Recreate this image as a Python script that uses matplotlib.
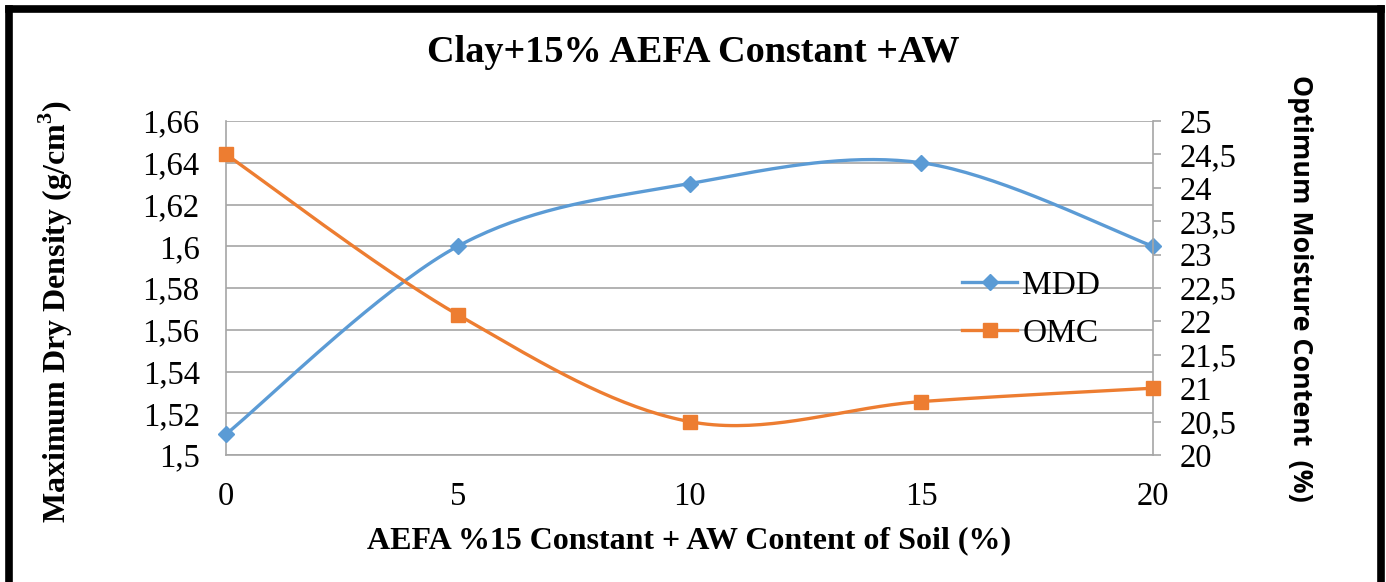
import numpy as np
import matplotlib.pyplot as plt
from matplotlib.ticker import FuncFormatter, MultipleLocator
from matplotlib.lines import Line2D

# AEFA/AW content (%) and compaction results
content = [0, 5, 10, 15, 20]
mdd = [1.51, 1.60, 1.63, 1.64, 1.60]
omc = [24.5, 22.1, 20.5, 20.8, 21.0]

blue = '#5B9BD5'
orange = '#ED7D31'
serif = 'Liberation Serif'


def smooth(x, y, n=40):
	# cubic bezier through the points, control points from neighbours (like office "smoothed line")
	x = np.asarray(x, float)
	y = np.asarray(y, float)
	px = np.concatenate(([x[0]], x, [x[-1]]))
	py = np.concatenate(([y[0]], y, [y[-1]]))
	xs, ys = [], []
	t = np.linspace(0, 1, n)
	for i in range(1, len(px) - 2):
		p0 = np.array([px[i], py[i]])
		p3 = np.array([px[i + 1], py[i + 1]])
		c1 = p0 + (np.array([px[i + 1], py[i + 1]]) - np.array([px[i - 1], py[i - 1]])) / 6
		c2 = p3 - (np.array([px[i + 2], py[i + 2]]) - np.array([px[i], py[i]])) / 6
		b = ((1 - t) ** 3)[:, None] * p0 + (3 * (1 - t) ** 2 * t)[:, None] * c1 \
			+ (3 * (1 - t) * t ** 2)[:, None] * c2 + (t ** 3)[:, None] * p3
		xs.extend(b[:, 0])
		ys.extend(b[:, 1])
	return xs, ys


def comma(v, pos):
	return '{:g}'.format(round(v, 3)).replace('.', ',')


fig = plt.figure(figsize=(13.86, 5.82), dpi=100)
ax = fig.add_axes([0.1631, 0.2182, 0.6688, 0.5739])
ax2 = ax.twinx()

sx, sy = smooth(content, mdd)
ax.plot(sx, sy, color=blue, lw=2.4, zorder=3, clip_on=False)
ax.plot(content, mdd, ls='none', marker='D', ms=8, color=blue, zorder=4, clip_on=False)

sx, sy = smooth(content, omc)
ax2.plot(sx, sy, color=orange, lw=2.4, zorder=3, clip_on=False)
ax2.plot(content, omc, ls='none', marker='s', ms=10, color=orange, zorder=4, clip_on=False)

ax.set_xlim(0, 20)
ax.set_ylim(1.5, 1.66)
ax2.set_ylim(20, 25)
ax.xaxis.set_major_locator(MultipleLocator(5))
ax.yaxis.set_major_locator(MultipleLocator(0.02))
ax2.yaxis.set_major_locator(MultipleLocator(0.5))
ax.yaxis.set_major_formatter(FuncFormatter(comma))
ax2.yaxis.set_major_formatter(FuncFormatter(comma))

ax.grid(axis='y', color='#A6A6A6', lw=1.2)
ax.set_axisbelow(True)
for a in (ax, ax2):
	for s in ('top', 'left', 'right', 'bottom'):
		a.spines[s].set_visible(False)
ax.spines['left'].set_visible(True)
ax.spines['bottom'].set_visible(True)
ax2.spines['right'].set_visible(True)
for s in (ax.spines['left'], ax.spines['bottom'], ax2.spines['right']):
	s.set_color('#A6A6A6')
	s.set_linewidth(1.2)

ax.tick_params(axis='y', length=0, pad=19, labelsize=23.5, labelfontfamily=serif)
ax.tick_params(axis='x', length=0, pad=19, labelsize=23.5, labelfontfamily=serif)
ax2.tick_params(axis='y', length=6, width=1.2, color='#A6A6A6', pad=13, labelsize=23.5,
	labelfontfamily=serif)

ax.set_xlabel('AEFA %15 Constant + AW Content of Soil (%)', family=serif, weight='bold',
	fontsize=23, labelpad=10)
ax.set_ylabel('Maximum Dry Density (g/cm$^\\mathregular{3}$)', family=serif, weight='bold',
	fontsize=23)
ax.yaxis.set_label_coords(-0.163, 0.43)
ax2.set_ylabel('Optimum Moisture Content  (%)', family='Open Sans', weight='bold',
	fontsize=19.3, rotation=-90, labelpad=55)

fig.text(0.5, 0.91, 'Clay+15% AEFA Constant +AW', ha='center', va='center', family=serif,
	weight='bold', fontsize=27.5)

handles = [Line2D([], [], color=blue, lw=2.4, marker='D', ms=8),
	Line2D([], [], color=orange, lw=2.4, marker='s', ms=10)]
ax.legend(handles, ['MDD', 'OMC'], loc='center left', bbox_to_anchor=(0.762, 0.435),
	frameon=False, prop={'family': serif, 'size': 24}, handlelength=1.65, handletextpad=0.15,
	labelspacing=0.52)

# black frame around the chart, open at the bottom
for xs_, ys_ in (([0.0065, 0.0065], [0, 0.985]), ([0.0065, 0.9965], [0.985, 0.985]),
		([0.9965, 0.9965], [0, 0.985])):
	fig.add_artist(Line2D(xs_, ys_, color='black', lw=5.5, transform=fig.transFigure,
		solid_capstyle='projecting'))

fig.savefig('out.png', dpi=100)
